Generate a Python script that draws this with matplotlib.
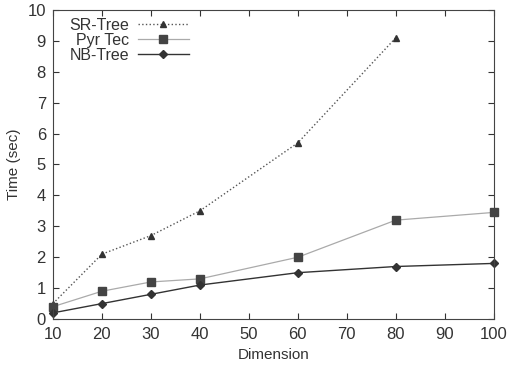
import numpy as np
import matplotlib.pyplot as plt

plt.rcParams['font.family'] = ['Liberation Sans', 'DejaVu Sans']

dim_sr = [10, 20, 30, 40, 60, 80]
sr_tree = [0.5, 2.1, 2.7, 3.5, 5.7, 9.1]

dim = [10, 20, 30, 40, 60, 80, 100]
pyr_tec = [0.4, 0.9, 1.2, 1.3, 2.0, 3.2, 3.45]
nb_tree = [0.2, 0.5, 0.8, 1.1, 1.5, 1.7, 1.8]

fig = plt.figure(figsize=(5.09, 3.68), dpi=100)
ax = fig.add_axes([0.104, 0.133, 0.866, 0.84])

ax.plot(dim_sr, sr_tree, linestyle=':', color='#555555', linewidth=1,
        marker='^', markersize=5, markerfacecolor='#333333', markeredgecolor='#333333',
        label='SR-Tree', clip_on=False)
ax.plot(dim, pyr_tec, linestyle='-', color='#aaaaaa', linewidth=0.9,
        marker='s', markersize=6, markerfacecolor='#444444', markeredgecolor='#444444',
        label='Pyr Tec', clip_on=False)
ax.plot(dim, nb_tree, linestyle='-', color='#333333', linewidth=1,
        marker='D', markersize=4, markerfacecolor='#333333', markeredgecolor='#333333',
        label='NB-Tree', clip_on=False)

ax.set_xlim(10, 100)
ax.set_ylim(0, 10)
ax.set_xticks([10, 20, 30, 40, 50, 60, 70, 80, 90, 100])
ax.set_yticks(np.arange(0, 11, 1))
ax.tick_params(direction='in', top=True, right=True, length=4, labelsize=12,
               colors='#333333')
ax.tick_params(axis='x', pad=6)
ax.tick_params(axis='y', pad=5)
for s in ax.spines.values():
    s.set_color('#444444')
ax.set_xlabel('Dimension', fontsize=11, color='#333333', labelpad=4)
ax.set_ylabel('Time (sec)', fontsize=11, color='#333333', labelpad=5)

leg = ax.legend(loc='upper left', markerfirst=False, frameon=False, fontsize=11.5,
                handlelength=3.2, handletextpad=0.5, labelspacing=0.0,
                borderaxespad=0.1, bbox_to_anchor=(0.02, 1.0))
for t in leg.get_texts():
    t.set_ha('right')
    t.set_color('#333333')

fig.savefig('out.png', dpi=100)
